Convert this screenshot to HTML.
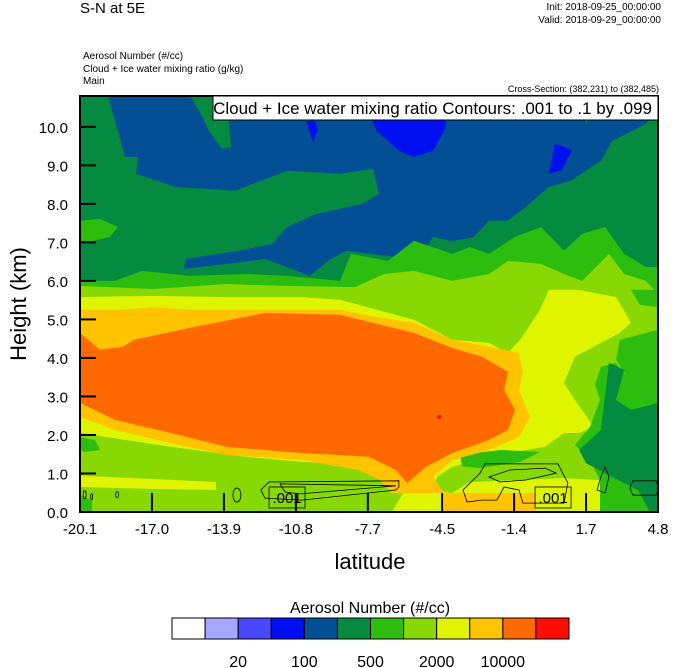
<!DOCTYPE html>
<html><head><meta charset="utf-8"><style>
html,body{margin:0;padding:0;background:#fff;}
body{width:674px;height:668px;overflow:hidden;font-family:"Liberation Sans",Arial,sans-serif;}
svg{display:block;}
text{font-family:"Liberation Sans",Arial,sans-serif;fill:#000;}
</style></head><body>
<svg id="chart" width="674" height="668" viewBox="0 0 674 668" xmlns="http://www.w3.org/2000/svg">
<text x="80" y="13" font-size="15">S-N at 5E</text>
<text x="661" y="10" font-size="10" text-anchor="end">Init: 2018-09-25_00:00:00</text>
<text x="661" y="23" font-size="10" text-anchor="end">Valid: 2018-09-29_00:00:00</text>
<text x="83" y="59" font-size="10">Aerosol Number   (#/cc)</text>
<text x="83" y="72" font-size="10">Cloud + Ice water mixing ratio   (g/kg)</text>
<text x="83" y="84" font-size="10">Main</text>
<text x="659" y="92" font-size="9" text-anchor="end">Cross-Section: (382,231) to (382,485)</text>
<defs><clipPath id="pc"><rect x="80" y="96" width="578" height="416"/></clipPath></defs>
<g id="fills" clip-path="url(#pc)"></g>
<g id="lines" clip-path="url(#pc)"></g>
<g id="axes"></g>
<g>
<rect x="213" y="96" width="445" height="24" fill="#fff" stroke="#000" stroke-width="1"/>
<text x="652" y="114" font-size="17" text-anchor="end">Cloud + Ice water mixing ratio Contours: .001 to .1 by .099</text>
</g>
<text x="370" y="569" font-size="22" text-anchor="middle">latitude</text>
<text transform="translate(26,304) rotate(-90)" font-size="22" text-anchor="middle">Height (km)</text>
<g id="cbar"></g>
<text x="370" y="613" font-size="16" text-anchor="middle">Aerosol Number  (#/cc)</text>
</svg>
<script>
// ---- data ----
const xTickLabels = ["-20.1","-17.0","-13.9","-10.8","-7.7","-4.5","-1.4","1.7","4.8"];
const xTickValues = [-20.1,-17.0,-13.9,-10.8,-7.7,-4.5,-1.4,1.7,4.8];
const yTickValues = [0,1,2,3,4,5,6,7,8,9,10];
const cbarColors = ["#ffffff","#a6a6ff","#4848ff","#000ff0","#034f96","#058b3f","#2dbd0f","#88d804","#dff500","#ffc300","#ff6900","#ff0d00"];
const cbarLabels = ["20","100","500","2000","10000"];
const cbarLabelSlots = [2,4,6,8,10];
const COL = {dg:"#058b3f",bl:"#034f96",bb:"#000ff0",gr:"#2dbd0f",li:"#88d804",ye:"#dff500",go:"#ffc300",or:"#ff6900"};
// filled regions [lat, km]
const regBlue = [[4.8,10.8],[4.8,10.52],[4.28,10.08],[2.82,9.63],[2.34,9.12],[1.05,8.6],[0.10,8.44],[-0.89,7.92],[-1.70,7.56],[-2.48,7.56],[-3.13,7.14],[-4.07,7.03],[-4.89,7.14],[-5.37,6.70],[-6.49,6.62],[-8.60,6.78],[-8.90,6.70],[-9.42,6.52],[-10.19,6.13],[-12.13,6.57],[-13.77,6.44],[-15.62,6.31],[-15.53,6.57],[-13.25,6.78],[-11.83,6.96],[-11.18,7.40],[-9.89,7.74],[-7.95,8.00],[-7.22,8.26],[-7.48,8.91],[-8.90,8.78],[-11.18,8.86],[-13.42,8.34],[-16.01,8.44],[-17.69,8.78],[-17.60,9.22],[-18.16,9.22],[-18.89,10.8]];
const regTopGreen1 = [[-15.36,10.8],[-14.89,10.34],[-14.54,9.89],[-13.98,9.43],[-13.59,9.48],[-13.68,10.08],[-13.90,10.8]];
const regTopGreen2 = [[1.40,10.8],[1.70,10.08],[2.0,10.34],[1.87,10.8]];
const regBright1 = [[-7.95,10.8],[-7.31,9.89],[-6.36,9.38],[-5.71,9.22],[-4.89,9.38],[-4.33,10.0],[-4.33,10.8]];
const regBright2 = [[-10.36,10.15],[-10.06,9.61],[-9.85,9.92],[-9.98,10.15]];
const regBright3 = [[0.10,8.78],[0.36,9.56],[1.10,9.40],[0.66,8.88]];
const regGreenBand = [[-20.1,6.0],[-18.59,6.0],[-17.43,6.26],[-15.36,6.13],[-12.95,6.18],[-11.18,6.13],[-8.90,6.0],[-8.43,6.70],[-6.83,6.52],[-5.71,7.04],[-4.07,6.70],[-3.30,6.88],[-2.48,6.70],[-1.36,7.14],[-0.24,7.40],[0.75,6.78],[1.53,7.22],[2.52,7.40],[3.34,6.70],[4.28,6.36],[4.8,6.36],[4.8,0],[-20.1,0]];
const regGreenLeft = [[-20.1,7.56],[-19.24,7.61],[-18.46,7.40],[-18.81,7.14],[-20.1,6.96]];
const regLime = [[-20.1,5.87],[-16.96,5.79],[-13.77,5.92],[-11.35,5.87],[-8.25,5.84],[-7.0,6.18],[-5.71,6.26],[-4.07,6.0],[-2.48,6.18],[-1.66,6.52],[-0.24,6.44],[0.75,6.18],[1.53,6.0],[2.69,6.70],[3.34,6.18],[4.28,6.0],[4.8,5.66],[4.8,0],[-20.1,0]];
const regG1 = [[3.64,5.77],[4.8,5.77],[4.8,5.32],[4.02,5.38]];
const regG4 = [[3.16,4.47],[4.8,4.73],[4.8,3.17],[3.47,3.51],[2.99,3.95]];
const regYellow = [[-20.1,5.58],[-16.96,5.61],[-13.77,5.58],[-10.54,5.58],[-8.90,5.51],[-7.31,5.25],[-5.71,4.99],[-4.07,4.47],[-2.48,4.39],[-1.66,4.13],[-1.14,4.47],[-0.28,5.25],[0.10,5.77],[1.35,5.77],[2.99,5.58],[3.64,4.91],[3.16,4.65],[2.34,4.39],[1.22,4.03],[0.75,3.35],[1.22,2.91],[2.04,2.21],[1.40,2.05],[0.75,2.05],[-0.07,1.69],[-0.89,1.61],[-2.48,1.43],[-4.07,1.17],[-4.72,0.91],[-4.89,0.57],[-4.07,0.49],[-4.07,0],[-20.1,0]];
const regLimeBottom = [[-20.1,2.05],[-16.18,1.69],[-12.95,1.43],[-10.54,1.30],[-8.12,1.22],[-6.49,0.75],[-6.19,0.49],[-6.66,0],[-20.1,0]];
const regYellowStripe = [[-20.1,0.94],[-17.08,0.86],[-14.24,0.78],[-14.24,0.57],[-17.08,0.60],[-20.1,0.65]];
const regGreenPatchL = [[-20.1,1.95],[-19.45,1.87],[-19.24,1.61],[-19.88,1.56],[-20.1,1.60]];
const regGreenPatchBL = [[-20.1,0.44],[-19.58,0.3],[-19.58,0],[-20.1,0]];
const regG2 = [[2.34,3.77],[2.99,3.87],[3.47,3.51],[4.8,3.17],[4.8,0],[2.30,0],[2.30,0.83],[1.87,1.35],[1.22,1.74],[1.87,2.21],[2.30,2.91],[2.09,3.30]];
const regDarkBR = [[1.40,1.61],[2.34,2.13],[2.69,3.87],[3.34,3.69],[2.99,2.91],[3.64,2.65],[4.8,2.83],[4.8,0],[4.45,0],[3.94,0.57],[2.82,0.91],[1.70,1.27]];
const regG3 = [[-3.73,1.48],[-2.01,1.61],[-0.28,1.56],[-1.14,1.30],[-2.87,1.14],[-3.64,1.19]];
const regYellowBR = [[-4.07,0.49],[-3.30,0.78],[-1.14,0.83],[0.58,0.88],[2.30,0.83],[2.30,0],[-4.07,0]];
const regGoldStrip = [[-4.42,0.49],[-0.46,0.49],[-0.46,0],[-4.42,0]];
const regGold = [[-20.1,5.25],[-18.25,5.25],[-16.96,5.32],[-15.36,5.25],[-12.13,5.25],[-8.90,5.25],[-7.31,5.06],[-5.71,4.91],[-4.07,4.47],[-2.48,4.29],[-1.19,4.13],[-1.02,3.61],[-1.19,3.17],[-0.71,2.47],[-1.19,1.95],[-2.48,1.61],[-4.07,1.35],[-4.89,0.91],[-4.42,0.49],[-6.66,0.49],[-7.18,0.83],[-8.12,1.09],[-10.54,1.35],[-13.77,1.48],[-16.18,1.79],[-18.59,2.13],[-20.1,2.47]];
const regOrange = [[-20.1,4.65],[-19.24,4.21],[-18.25,4.29],[-17.77,4.47],[-15.36,4.78],[-12.13,5.17],[-8.90,5.12],[-5.71,4.65],[-4.07,4.26],[-2.78,4.03],[-1.66,3.64],[-1.83,3.17],[-1.36,2.65],[-1.66,2.13],[-2.48,1.87],[-4.07,1.53],[-5.19,1.17],[-6.01,0.75],[-6.49,1.09],[-7.65,1.43],[-8.90,1.48],[-10.54,1.53],[-12.13,1.61],[-13.77,1.69],[-16.18,2.05],[-18.59,2.39],[-20.1,2.83]];
const redDot = [-4.62, 2.47];
// contour lines [lat, km]
const cLeftOuter = [[-12.31,0.57],[-11.96,0.78],[-6.36,0.81],[-6.36,0.65],[-6.49,0.57],[-10.54,0.31],[-12.13,0.36]];
const cLeftInner = [[-11.48,0.73],[-6.49,0.68],[-10.62,0.47],[-11.27,0.52]];
const cRightOuter = [[-3.60,0.57],[-2.87,1.01],[-2.65,1.25],[0.49,1.25],[0.92,0.75],[0.75,0.23],[-1.02,0.23],[-1.19,0.57],[-1.83,0.65],[-2.14,0.31],[-2.78,0.31],[-3.43,0.26]];
const cRightInner = [[-2.48,0.91],[-1.57,1.09],[-0.07,1.14],[0.41,1.01],[-0.89,0.83],[-2.0,0.78]];
const cLoop = [[2.52,1.17],[2.69,0.91],[2.52,0.49],[2.17,0.57],[2.34,0.91]];
const cFarRight = [[3.72,0.81],[4.71,0.81],[4.84,0.62],[4.71,0.44],[3.72,0.44],[3.59,0.62]];
const cSmall = [[-13.34,0.44,4,7],[-19.9,0.45,1.5,4],[-19.6,0.4,1,3],[-18.5,0.45,1.5,3]];
const contourLabels = [[-11.18,0.39,".001"],[0.28,0.39,".001"]];

// ---- axis functions ----
const X0=80,X1=658,Y0=512,Y1=96,LAT0=-20.1,LAT1=4.8,H1=10.8;
const sx = v => X0 + (v-LAT0)/(LAT1-LAT0)*(X1-X0);
const sy = v => Y0 - v/H1*(Y0-Y1);
const NS="http://www.w3.org/2000/svg";
function mk(tag, parent, attrs){const e=document.createElementNS(NS,tag);for(const k in attrs)e.setAttribute(k,attrs[k]);parent.appendChild(e);return e;}
const pts = arr => arr.map(p=>sx(p[0]).toFixed(1)+","+sy(p[1]).toFixed(1)).join(" ");

const fills=document.getElementById("fills");
const base=mk("rect",fills,{x:X0,y:Y1,width:X1-X0,height:Y0-Y1,fill:COL.dg});


const layers=[
 ["blue-region",regBlue,COL.bl],["top-green-blob-1",regTopGreen1,COL.dg],["top-green-blob-2",regTopGreen2,COL.dg],
 ["bright-blue-1",regBright1,COL.bb],["bright-blue-2",regBright2,COL.bb],["bright-blue-3",regBright3,COL.bb],
 ["green-band",regGreenBand,COL.gr],["green-left",regGreenLeft,COL.gr],["lime-region",regLime,COL.li],
 ["green-right-top",regG1,COL.gr],["green-right-mid",regG4,COL.gr],["yellow-region",regYellow,COL.ye],
 ["lime-bottom-left",regLimeBottom,COL.li],["yellow-stripe",regYellowStripe,COL.ye],["green-patch-left",regGreenPatchL,COL.gr],
 ["green-patch-bottom-left",regGreenPatchBL,COL.gr],["green-right-low",regG2,COL.gr],["darkgreen-bottom-right",regDarkBR,COL.dg],
 ["green-center-low",regG3,COL.gr],["yellow-bottom-right",regYellowBR,COL.ye],["gold-bottom-strip",regGoldStrip,COL.go],
 ["gold-region",regGold,COL.go],["orange-region",regOrange,COL.or]
];
for(const L of layers){
  const p=mk("polygon",fills,{points:pts(L[1]),fill:L[2]});
  
  
}
const dot=mk("circle",fills,{cx:sx(redDot[0]),cy:sy(redDot[1]),r:2,fill:"#ff0d00"});



const lines=document.getElementById("lines");
for(const c of [cLeftOuter,cLeftInner,cRightOuter,cRightInner,cLoop,cFarRight]){
  const p=mk("polygon",lines,{points:pts(c),fill:"none",stroke:"#000","stroke-width":0.8});
  
  
}
for(const s of cSmall){
  const e=mk("ellipse",lines,{cx:sx(s[0]),cy:sy(s[1]),rx:s[2],ry:s[3],fill:"none",stroke:"#000","stroke-width":0.8});
  
  
}
for(const l of contourLabels){
  const cx=sx(l[0]),cy=sy(l[1]);
  const r=mk("rect",lines,{x:cx-18,y:cy-10,width:36,height:21,fill:"none",stroke:"#000","stroke-width":0.8});
  
  
  const t=mk("text",lines,{x:cx,y:cy+6,"font-size":15,"text-anchor":"middle"});
  t.textContent=l[2];
  
  
}

const axes=document.getElementById("axes");
const frame=mk("rect",axes,{x:X0,y:Y1,width:X1-X0,height:Y0-Y1,fill:"none",stroke:"#000","stroke-width":2});


xTickValues.forEach((v,i)=>{
  const x=sx(v);
  const tk=mk("line",axes,{x1:x,y1:Y0,x2:x,y2:Y0-19,stroke:"#000","stroke-width":2});
  
  
  const t=mk("text",axes,{x:x,y:Y0+22,"font-size":15,"text-anchor":"middle"});
  t.textContent=xTickLabels[i];
  
  
});
yTickValues.forEach(v=>{
  const y=sy(v);
  const tk=mk("line",axes,{x1:X0,y1:y,x2:X0+16,y2:y,stroke:"#000","stroke-width":2});
  
  
  const t=mk("text",axes,{x:68,y:y+6,"font-size":15,"text-anchor":"end"});
  t.textContent=v.toFixed(1);
  
  
});

const cbar=document.getElementById("cbar");
const CB0=172,CB1=569,CBY=618,CBH=21,bw=(CB1-CB0)/cbarColors.length;
cbarColors.forEach((c,i)=>{
  const r=mk("rect",cbar,{x:CB0+i*bw,y:CBY,width:bw,height:CBH,fill:c,stroke:"#000","stroke-width":1});
  
  
});
cbarLabels.forEach((l,i)=>{
  const t=mk("text",cbar,{x:CB0+cbarLabelSlots[i]*bw,y:667,"font-size":16,"text-anchor":"middle"});
  t.textContent=l;
  
  
});
</script>
</body></html>
